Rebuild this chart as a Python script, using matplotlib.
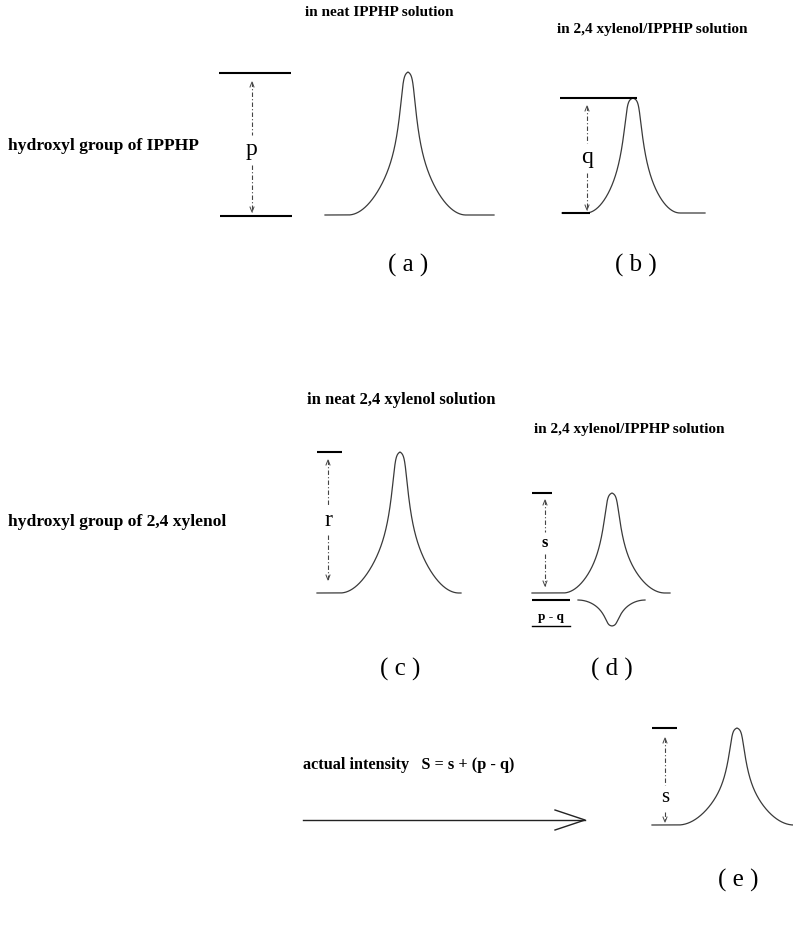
import numpy as np
import matplotlib
matplotlib.use("Agg")
import matplotlib.pyplot as plt

# ---- schematic data (pixel-space units of the diagram) ----
panel_labels = ["( a )", "( b )", "( c )", "( d )", "( e )"]
label_x = [408, 636, 400, 612, 738]
label_y = [265, 265, 669, 669, 880]

peak_center = [408, 633, 400, 612, 737]
peak_top = [72, 98, 452, 493, 728]
peak_base = [215, 213, 593, 593, 825]
peak_flat_left = [325, 562, 317, 532, 652]
peak_flat_right = [494, 705, 461, 670, 793]
peak_spread_left = [60, 47, 60, 49, 59]
peak_spread_right = [58, 47, 59, 53, 57]
peak_neck = [5, 6, 5, 5, 5]

# negative (dip) peak in panel (d)
dip_center = 612
dip_base = 600
dip_bottom = 626
dip_left = 578
dip_right = 645

# dimension bars: (x0, x1, y)
bars = [(219, 291, 73), (220, 292, 216), (560, 637, 98), (562, 590, 213),
        (317, 342, 452), (532, 552, 493), (532, 570, 600), (652, 677, 728)]
# vertical dimension lines: (x, y_top, y_bottom, letter, letter_y, size)
dims = [(252, 82, 212, "p", 150, 17), (587, 106, 210, "q", 158, 17),
        (328, 460, 580, "r", 520, 17), (545, 500, 586, "s", 543, 12),
        (665, 738, 822, "s", 798, 15)]

texts = [
    (305, 12, "in neat IPPHP solution", 11.0),
    (557, 30, "in 2,4 xylenol/IPPHP solution", 11.0),
    (8, 146, "hydroxyl group of IPPHP", 12.6),
    (307, 400, "in neat 2,4 xylenol solution", 12.0),
    (534, 430, "in 2,4 xylenol/IPPHP solution", 11.0),
    (8, 522, "hydroxyl group of 2,4 xylenol", 12.6),
    (303, 765, "actual intensity   S = s + (p - q)", 11.7),
]

arrow_x0, arrow_x1, arrow_y = 303, 585, 820

SERIF = ["Liberation Serif", "DejaVu Serif"]

fig = plt.figure(figsize=(7.93, 9.26), dpi=100)
ax = fig.add_axes([0, 0, 1, 1])
ax.set_xlim(0, 793)
ax.set_ylim(926, 0)
ax.axis("off")


def profile(d, spread, neck):
    """Sharp 'witch-hat' line profile: 1 at centre, 0 at distance=spread."""
    def raw(dd):
        a = np.abs(dd) - neck
        r = 0.5 * (a + np.sqrt(a ** 2 + 4.0))
        D = spread - neck
        wide = np.clip(1 - r / D, 0, None) ** 2
        return 0.45 * np.exp(-r / 4.7) * (r < D) + 0.55 * wide
    return np.clip(raw(d) / raw(np.zeros_like(d)), 0, 1)


for c, t, b, fl, fr, sl, sr, nk in zip(peak_center, peak_top, peak_base,
                                       peak_flat_left, peak_flat_right,
                                       peak_spread_left, peak_spread_right,
                                       peak_neck):
    x = np.linspace(fl, fr, 1200)
    spread = np.where(x < c, sl, sr)
    f = profile(x - c, spread, nk)
    ax.plot(x, b - (b - t) * f, color="#3a3a3a", lw=0.9)

# dip
x = np.linspace(dip_left, dip_right, 600)
f = profile(x - dip_center, np.where(x < dip_center, dip_center - dip_left,
                                     dip_right - dip_center), 4)
ax.plot(x, dip_base + (dip_bottom - dip_base) * f, color="#3a3a3a", lw=0.9)

for x0, x1, y in bars:
    ax.plot([x0, x1], [y, y], color="black", lw=1.5, solid_capstyle="butt")

for x, y0, y1, letter, ly, sz in dims:
    gap = sz * 0.9
    ax.plot([x, x], [y0, ly - gap], color="#444444", lw=0.8, ls=(0, (4, 2, 1, 2)))
    ax.plot([x, x], [ly + gap, y1], color="#444444", lw=0.8, ls=(0, (4, 2, 1, 2)))
    ax.plot([x - 2, x, x + 2], [y0 + 5, y0, y0 + 5], color="#444444", lw=0.7)
    ax.plot([x - 2, x, x + 2], [y1 - 5, y1, y1 - 5], color="#444444", lw=0.7)
    ax.text(x, ly, letter, ha="center", va="center", fontsize=sz,
            family=SERIF, weight="bold" if sz < 14 else "normal")

# p - q label
ax.text(551, 617, "p - q", ha="center", va="center", fontsize=9.5, family=SERIF,
        weight="bold")
ax.plot([532, 570], [626, 626], color="black", lw=1.0)

for x, y, s, sz in texts:
    ax.text(x, y, s, ha="left", va="center", fontsize=sz, family=SERIF,
            weight="bold")

for s, x, y in zip(panel_labels, label_x, label_y):
    ax.text(x, y, s, ha="center", va="center", fontsize=18, family=SERIF)

# arrow
ax.plot([arrow_x0, arrow_x1], [arrow_y, arrow_y], color="#222222", lw=1.0)
ax.plot([arrow_x1 - 30, arrow_x1, arrow_x1 - 30],
        [arrow_y - 10, arrow_y, arrow_y + 10], color="#222222", lw=1.0)

fig.savefig("out.png", dpi=100)
